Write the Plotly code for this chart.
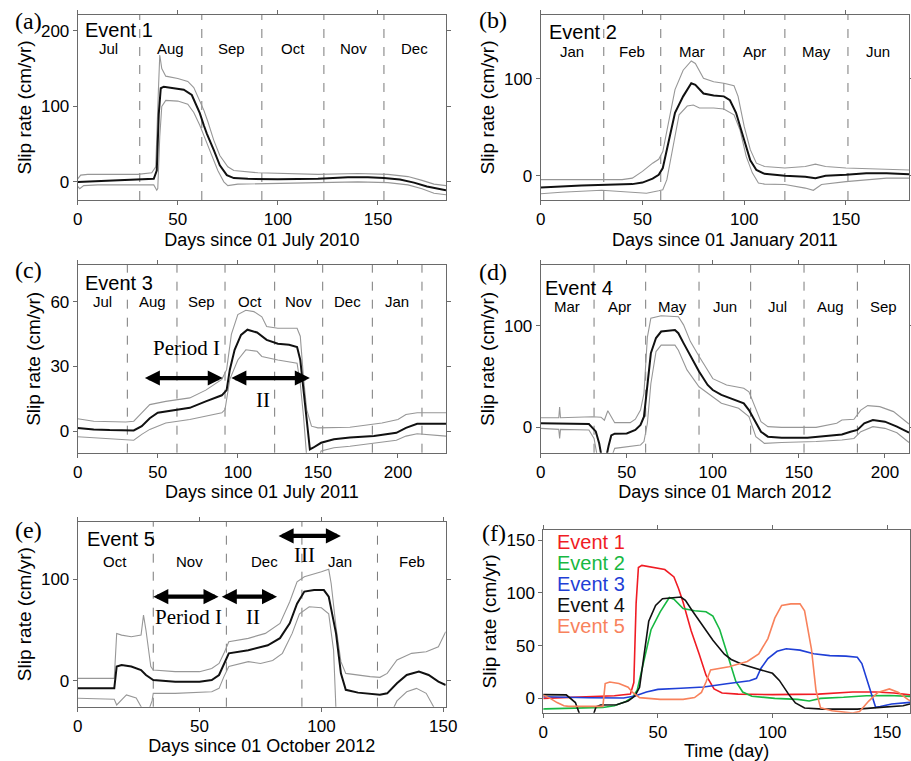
import plotly.graph_objects as go

# ---------------- data (day, slip rate cm/yr) ----------------
A_CENTER = [(0,0),(10,1),(20,1.5),(31,2.5),(38,4),(39.5,15),(40.5,90),(41.5,124),(43,126),(48,124),(53,122),(57,115),(59,104),(61,91),(63,75),(64.5,64),(68,42),(71,22),(74.5,9),(78,5),(85,4),(100,3.5),(120,4),(135,6),(145,6),(153,5),(161,3),(168,-1),(174.5,-6),(179.5,-9),(184,-11)]
A_UPPER = [(0,4),(1.5,9),(5,10),(30,10),(37,12),(39,20),(40.3,120),(41,168),(42,150),(44,140),(50,137),(55,133),(58,125),(61,108),(63,95),(65,80),(68,55),(71,35),(75,20),(78,15),(90,12),(120,10),(140,11),(155,10),(165,7),(172,2),(178,-3),(184,-5)]
A_LOWER = [(0,-6),(1,-9),(3,-5),(10,-4),(38,-4),(39.5,-11),(40,-9),(41,60),(42,100),(44,108),(50,107),(55,103),(58,92),(61,75),(64,55),(67,35),(70,15),(73,0),(75,-5),(80,-3),(100,-2),(120,-1),(140,0),(155,-1),(165,-4),(172,-9),(178,-15),(184,-17)]

B_CENTER = [(0,-12),(20,-10),(45,-8.6),(50,-7),(55,-3),(58,1),(60,8),(63,37),(66,65),(70,82),(74,95.5),(76,94),(80,85),(85,83),(90,82),(93,78),(96,65),(100,37),(103,16),(106,6),(110,2),(120,0),(130,-1),(135,-2.5),(140,0),(150,1),(160,2.5),(170,2.7),(181,1.7)]
B_UPPER = [(0,-4),(40,-4),(45,-2.4),(50,4.5),(55,13),(58,17),(60,25),(63,58),(66,89),(70,109),(74,118.5),(76,116),(80,100.7),(85,97),(90,95.5),(95,93),(97,82),(100,51),(103,27),(106,13),(110,9.6),(120,8),(130,9.6),(135,12),(140,9.6),(150,8),(181,6)]
B_LOWER = [(0,-18.5),(10,-17),(30,-15),(45,-17),(52,-18),(58,-15.5),(60,-14.4),(62,-4),(65,30),(68,63),(72,72),(75,73),(78,70),(85,70),(90,69),(95,63),(98,47),(101,20),(104,3),(107,-7.5),(110,-8.6),(120,-9),(130,-12.7),(134,-15),(138,-9),(150,-6),(170,-2.4),(181,-2.4)]

C_CENTER = [(0,1.5),(10,0.8),(20,0.5),(35,0.3),(40,2.3),(45,6),(50,8.5),(60,9.5),(70,10.8),(80,13.8),(90,16.6),(93,19),(95,28.5),(98,37.7),(102,44.6),(106,47),(112,45.7),(118,42.3),(125,40.5),(132,40),(137,39),(139,33),(141,19),(143,3.8),(145,-8.5),(147,-7.7),(152,-5.4),(160,-3.8),(170,-3),(185,-2.3),(199,-0.8),(205,1.5),(212,3.4),(230,3.4)]
C_UPPER = [(0,5.7),(10,4.6),(30,4.2),(35,4.6),(40,8.5),(45,12.3),(55,13.8),(70,15.4),(80,19),(90,24),(93,28.5),(96,45),(100,54),(105,56),(110,55.4),(115,53),(118,48.5),(125,47.7),(137,47.7),(139,44),(141,25),(143,10),(146,2.3),(150,1.5),(170,1.8),(190,3.8),(200,5.4),(205,7.7),(212,8.5),(230,8.5)]
C_LOWER = [(0,-2.6),(20,-3.4),(35,-4.2),(40,-1.5),(45,0.8),(55,3.8),(70,5.4),(90,8.5),(92,10),(95,24),(100,33),(105,37.7),(112,37),(115,34.6),(125,33),(137,31.5),(139,22),(141,7),(143,-12),(146,-20),(150,-14),(152,-9.2),(160,-7.7),(170,-7),(185,-5.7),(199,-4.2),(205,-2.3),(212,-1.2),(230,-2.3)]

D_CENTER = [(0,4),(20,4),(28,3.3),(32,-4),(34,-16),(35.5,-30),(38,-30),(39.5,-18),(41,-8),(43,-6.3),(50,-6),(55,-2.6),(58,2.3),(60,10.5),(62,40),(64,73),(67,88),(70,94.4),(78,96),(80,92.8),(83,83),(87,70),(92,55),(97,41.8),(100,36.8),(105,32),(110,28.6),(118,23.7),(121,17),(125,4),(128,-4.3),(132,-9.2),(140,-10.2),(155,-10.2),(165,-8.6),(175,-7),(180,-4.3),(184,-2.6),(188,4),(193,7.2),(200,5.6),(207,0.7),(214,-5.3)]
D_UPPER = [(0,9.5),(10.5,9.5),(11,20),(11.5,9.5),(30,10.5),(35,10),(37,7),(39,16.4),(41,10.5),(43,4.6),(52,4.6),(55,8),(58,17),(60,33.5),(62,89),(64,107.6),(70,110),(80,109),(83,101),(87,84.5),(92,70),(97,56.6),(100,48),(108,41.8),(118,38.5),(121,35),(125,17),(128,5.6),(132,0.7),(140,0),(160,0),(172,4),(175,7.2),(182,8),(186,17),(190,21.4),(197,20.4),(205,15.5),(214,3.3)]
D_LOWER = [(0,-1),(10.5,-2),(11,-11),(11.5,-2),(28,-2.6),(31,-11),(33,-30),(41,-30),(43,-20.7),(50,-19),(58,-17.4),(60,-14),(62,4),(64,43),(67,74.7),(70,81),(78,81),(80,76),(85,56.6),(92,40),(97,33.5),(105,23.7),(115,18.8),(121,10.5),(125,-9.2),(130,-15.8),(140,-15),(160,-14),(175,-12.5),(182,-11),(186,-4.3),(193,0.7),(200,-1),(207,-5.3),(214,-15)]

E_CENTER = [(-11,3),(-8,0),(-5,-4),(-2,-7),(0,-7.6),(15,-7.6),(16,14),(18,15.5),(22,14),(26,10.5),(28,5.6),(31,0.7),(40,-1),(50,-1),(55,0.7),(58,5.6),(60,15.5),(62,27),(70,30),(78,35),(83,42),(87,56.6),(90,76),(93,88),(97,89.5),(101,89.5),(103,83),(106,46.7),(108,7.2),(110,-9),(115,-11.8),(124,-14),(127,-12.5),(131,-2.6),(135,5.6),(140,8.9),(144,5.6),(148,-1),(151,-4.3)]
E_UPPER = [(0,2.3),(15,2.3),(16,46.7),(18,45),(22,43.4),(26,45),(27,64.8),(28,50),(30,14),(31,10.5),(40,8.9),(50,8.9),(55,12),(58,17),(60,27),(62,38.5),(70,41.8),(77,46.7),(83,56.6),(87,78),(90,97.7),(93,102.6),(100,107.6),(103,110),(104,96),(106,53),(108,18.8),(110,7.2),(120,4),(124,3.3),(127,7.2),(131,20.4),(137,27),(143,28.6),(148,33.5),(151,48.4)]
E_LOWER = [(0,-17.4),(15,-18.4),(16,-24),(20,-14),(24,-17),(27,-30),(29,-30),(30.5,-20),(31,-12.5),(40,-12.5),(55,-11),(58,-7.6),(60,4),(62,14),(70,18.8),(75,17),(80,20),(84,27),(88,46.7),(91,66),(95,73),(100,72),(103,66),(105,30),(106,-30),(129,-30),(131,-20),(135,-11),(139,-7.6),(143,-12.5),(147,-30),(151,-40)]

# panel (f): day offset applied to each event's central curve
F_OFFSETS = [0, -19, 0, -18, 11]
F_NAMES = ["Event 1", "Event 2", "Event 3", "Event 4", "Event 5"]
F_COLORS = ["#f01c24", "#17b842", "#1f3fd6", "#111111", "#f8825c"]

MONTH_STARTS = {
    "a": [0, 31, 62, 92, 123, 153, 184],
    "b": [0, 31, 59, 90, 120, 151, 181],
    "c": [0, 31, 62, 92, 123, 153, 184, 215],
    "d": [0, 31, 61, 92, 122, 153, 184, 214],
    "e": [0, 31, 61, 92, 123, 151],
}
MONTH_NAMES = {
    "a": ["Jul", "Aug", "Sep", "Oct", "Nov", "Dec"],
    "b": ["Jan", "Feb", "Mar", "Apr", "May", "Jun"],
    "c": ["Jul", "Aug", "Sep", "Oct", "Nov", "Dec", "Jan"],
    "d": ["Mar", "Apr", "May", "Jun", "Jul", "Aug", "Sep"],
    "e": ["Oct", "Nov", "Dec", "Jan", "Feb"],
}
X_TITLES = {
    "a": "Days since 01 July 2010",
    "b": "Days since 01 January 2011",
    "c": "Days since 01 July 2011",
    "d": "Days since 01 March 2012",
    "e": "Days since 01 October 2012",
    "f": "Time (day)",
}
Y_TITLE = "Slip rate (cm/yr)"

# arrows: (start day, end day, value); texts: (label, day, value)
C_ARROWS = [(41, 90.6, 24.6), (95, 145, 24.6)]
C_TEXTS = [("Period I", 68, 38.5), ("II", 116, 14.6)]
E_ARROWS = [(30.4, 57.8, 83), (58.5, 81.8, 83), (81.8, 108, 143)]
E_TEXTS = [("Period I", 45.5, 63), ("II", 71.8, 63), ("III", 93, 124)]

SANS = "Liberation Sans, Arial, sans-serif"
SERIF = "Liberation Serif, Times New Roman, serif"

W, H = 911, 761

def px_x(a, b):
    return [a / W, b / W]

def px_y(top, bottom):
    return [1 - bottom / H, 1 - top / H]

PANELS = {
    "a": dict(ax="", xd=px_x(77.7, 446), yd=px_y(15, 200), xr=[0, 184], yr=[-24, 221], xt=[0, 50, 100, 150], yt=[0, 100, 200],
              data=(A_CENTER, A_UPPER, A_LOWER), mlab_y=0.82, ev="Event 1", ev_x=0.015, ev_y=0.919, tag_xy=(13, 21)),
    "b": dict(ax="2", xd=px_x(540.7, 909), yd=px_y(15, 200), xr=[0, 181], yr=[-25, 166], xt=[0, 50, 100, 150], yt=[0, 100],
              data=(B_CENTER, B_UPPER, B_LOWER), mlab_y=0.80, ev="Event 2", ev_x=0.016, ev_y=0.906, tag_xy=(477, 20)),
    "c": dict(ax="3", xd=px_x(77.7, 446), yd=px_y(265, 452.7), xr=[0, 230], yr=[-10, 77], xt=[0, 50, 100, 150, 200], yt=[0, 30, 60],
              data=(C_CENTER, C_UPPER, C_LOWER), mlab_y=0.804, ev="Event 3", ev_x=0.015, ev_y=0.902, tag_xy=(13, 270)),
    "d": dict(ax="4", xd=px_x(540.7, 909), yd=px_y(265, 452.7), xr=[0, 214], yr=[-25, 160], xt=[0, 50, 100, 150, 200], yt=[0, 100],
              data=(D_CENTER, D_UPPER, D_LOWER), mlab_y=0.778, ev="Event 4", ev_x=0.007, ev_y=0.879, tag_xy=(477, 272)),
    "e": dict(ax="5", xd=px_x(77.7, 445.7), yd=px_y(521.7, 706.7), xr=[0, 151], yr=[-25.7, 157], xt=[0, 50, 100, 150], yt=[0, 100],
              data=(E_CENTER, E_UPPER, E_LOWER), mlab_y=0.783, ev="Event 5", ev_x=0.02, ev_y=0.907, tag_xy=(13, 530)),
    "f": dict(ax="6", xd=px_x(543.3, 910), yd=px_y(530, 712.7), xr=[0, 160], yr=[-13.6, 159.5], xt=[0, 50, 100, 150], yt=[0, 50, 100, 150],
              data=None, tag_xy=(480, 533)),
}

fig = go.Figure()
layout = dict(width=W, height=H, margin=dict(l=0, r=0, t=0, b=0), paper_bgcolor="white", plot_bgcolor="white",
              showlegend=False, font=dict(family=SANS, color="black"))
annotations = []
shapes = []

def xs(pairs, off=0):
    return [p[0] + off for p in pairs]

def ys(pairs):
    return [p[1] for p in pairs]

for key, p in PANELS.items():
    a = p["ax"]
    xref, yref = "x" + a, "y" + a
    axis_common = dict(showline=True, mirror="ticks", linecolor="#6a6a6a", linewidth=1, ticks="outside", ticklen=4,
                       tickcolor="#6a6a6a", showgrid=False, zeroline=False, tickfont=dict(size=17, family=SANS, color="black"),
                       automargin=False)
    layout["xaxis" + a] = dict(axis_common, domain=p["xd"], range=p["xr"], anchor=yref, tickvals=p["xt"],
                               title=dict(text=X_TITLES[key], font=dict(size=18, family=SANS), standoff=4))
    layout["yaxis" + a] = dict(axis_common, domain=p["yd"], range=p["yr"], anchor=xref, tickvals=p["yt"],
                               title=dict(text=Y_TITLE, font=dict(size=19, family=SANS), standoff=4))

    if p["data"] is not None:
        center, upper, lower = p["data"]
        for line, col, w in ((upper, "#979797", 1.1), (lower, "#979797", 1.1), (center, "#111111", 2)):
            fig.add_trace(go.Scatter(x=xs(line), y=ys(line), mode="lines", line=dict(color=col, width=w),
                                     xaxis=xref, yaxis=yref, hoverinfo="skip"))
        starts = MONTH_STARTS[key]
        names = MONTH_NAMES[key]
        for edge in starts[1:]:
            if edge < p["xr"][1]:
                shapes.append(dict(type="line", xref=xref, yref=yref + " domain", x0=edge, x1=edge, y0=0, y1=1,
                                   line=dict(color="#7a7a7a", width=1, dash="dash"), layer="below"))
        for i, name in enumerate(names):
            annotations.append(dict(text=name, xref=xref, yref=yref + " domain", x=(starts[i] + starts[i + 1]) / 2,
                                    y=p["mlab_y"], showarrow=False, font=dict(size=15, family=SANS, color="black"),
                                    xanchor="center", yanchor="middle"))
        annotations.append(dict(text=p["ev"], xref=xref + " domain", yref=yref + " domain", x=p["ev_x"], y=p["ev_y"],
                                showarrow=False, font=dict(size=20, family=SANS, color="black"),
                                xanchor="left", yanchor="middle"))
    else:
        centers = [A_CENTER, B_CENTER, C_CENTER, D_CENTER, E_CENTER]
        for i, c in enumerate(centers):
            fig.add_trace(go.Scatter(x=xs(c, F_OFFSETS[i]), y=ys(c), mode="lines",
                                     line=dict(color=F_COLORS[i], width=1.6), name=F_NAMES[i],
                                     xaxis=xref, yaxis=yref, hoverinfo="skip"))
            annotations.append(dict(text=F_NAMES[i], xref=xref + " domain", yref=yref + " domain", x=0.032,
                                    y=0.936 - 0.115 * i, showarrow=False,
                                    font=dict(size=20, family=SANS, color=F_COLORS[i]),
                                    xanchor="left", yanchor="middle"))

    tx, ty = p["tag_xy"]
    annotations.append(dict(text="(" + key + ")", xref="paper", yref="paper", x=tx / W, y=1 - ty / H,
                            showarrow=False, font=dict(size=24, family=SERIF, color="black"),
                            xanchor="left", yanchor="middle"))

def add_arrows(arrows, texts, a):
    for x0, x1, yv in arrows:
        annotations.append(dict(text="", x=x1, y=yv, ax=x0, ay=yv, xref="x" + a, yref="y" + a,
                                axref="x" + a, ayref="y" + a, showarrow=True, arrowside="end+start",
                                arrowhead=2, startarrowhead=2, arrowsize=0.7, startarrowsize=0.7,
                                arrowwidth=4.3, arrowcolor="black", standoff=0, startstandoff=0))
    for t, xv, yv in texts:
        annotations.append(dict(text=t, x=xv, y=yv, xref="x" + a, yref="y" + a, showarrow=False,
                                font=dict(size=21, family=SERIF, color="black"), xanchor="center", yanchor="middle"))

add_arrows(C_ARROWS, C_TEXTS, "3")
add_arrows(E_ARROWS, E_TEXTS, "5")

layout["annotations"] = annotations
layout["shapes"] = shapes
fig.update_layout(**layout)
fig.write_html("out.html")
